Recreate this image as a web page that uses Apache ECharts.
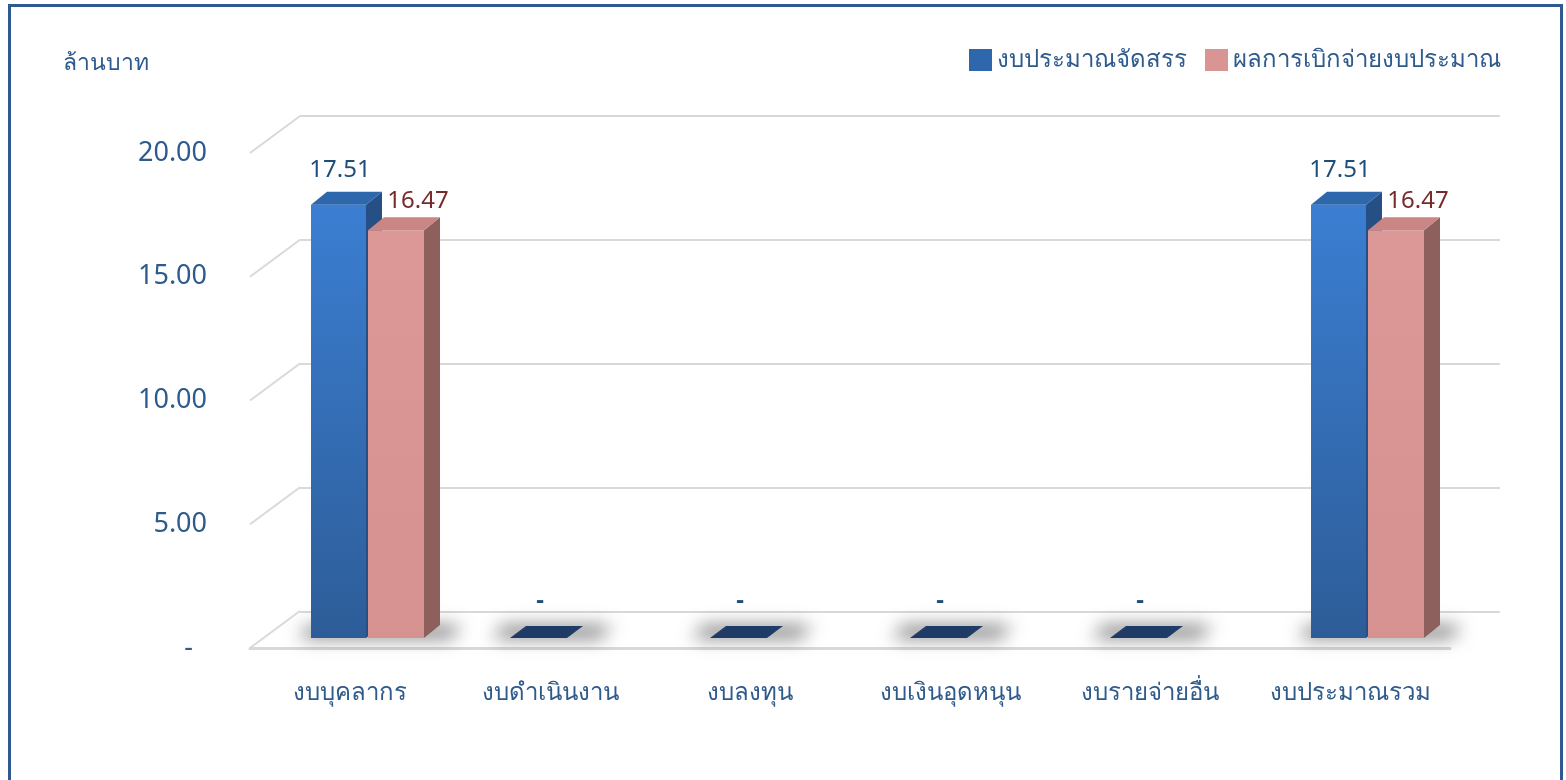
<!DOCTYPE html>
<html>
<head>
<meta charset="utf-8">
<script src="https://cdn.jsdelivr.net/npm/echarts@6/dist/echarts.min.js"></script>
<style>
  html, body { margin: 0; padding: 0; background: #fff; }
  #main { width: 1566px; height: 780px; position: relative; }
  .frame { position: absolute; left: 8px; top: 4px; width: 1555px; height: 800px; border: 3px solid #2f5a8f; box-sizing: border-box; pointer-events: none; }
</style>
</head>
<body>
<div id="main"></div>
<div class="frame"></div>
<script>
// ข้อมูล
const categories = ['งบบุคลากร', 'งบดำเนินงาน', 'งบลงทุน', 'งบเงินอุดหนุน', 'งบรายจ่ายอื่น', 'งบประมาณรวม']
const allocated = [17.51, 0, 0, 0, 0, 17.51]
const disbursed = [16.47, 0, 0, 0, 0, 16.47]
const yTicks = [0, 5, 10, 15, 20]
const seriesNames = ['งบประมาณจัดสรร', 'ผลการเบิกจ่ายงบประมาณ']

const FONT = '"Noto Sans", Tahoma, sans-serif'
const TEXT = '#2e5a8c'
const GRID = '#d9d9d9'
const DX = 16, DY = 13 // ความลึกของแท่ง
const WALL_DX = 50, WALL_DY = 37

function fmt (v) {
  return v === 0 ? '-' : v.toFixed(2)
}

function bar3d (x0, x1, y0, y1, c) {
  return [
    {
      type: 'rect',
      shape: { x: x0, y: y1, width: x1 - x0, height: y0 - y1 },
      style: { fill: new echarts.graphic.LinearGradient(0, 0, 0, 1, [{ offset: 0, color: c.front[0] }, { offset: 1, color: c.front[1] }]) }
    },
    {
      type: 'polygon',
      shape: { points: [[x1, y1], [x1 + DX, y1 - DY], [x1 + DX, y0 - DY], [x1, y0]] },
      style: { fill: c.side }
    },
    {
      type: 'polygon',
      shape: { points: [[x0, y1], [x0 + DX, y1 - DY], [x1 + DX, y1 - DY], [x1, y1]] },
      style: { fill: c.top }
    }
  ]
}

const blue = { front: ['#3b7ed2', '#2d5d98'], side: '#264f86', top: '#2f67ad' }
const pink = { front: ['#dc9896', '#d69290'], side: '#8d605e', top: '#c98684' }

const chart = echarts.init(document.getElementById('main'))
chart.setOption({
  animation: false,
  textStyle: { fontFamily: FONT },
  title: {
    text: 'ล้านบาท',
    left: 58,
    top: 47,
    textStyle: { fontSize: 23, fontWeight: 'normal', color: TEXT, fontFamily: FONT }
  },
  legend: {
    right: 60,
    top: 43,
    icon: 'rect',
    itemWidth: 23,
    itemHeight: 22,
    itemGap: 18,
    textStyle: { fontSize: 24, color: TEXT, fontFamily: FONT },
    data: seriesNames
  },
  grid: [
    // ผนังด้านหลัง
    { left: 300, right: 66, top: 116, height: 496 },
    // ระนาบด้านหน้า
    { left: 250, right: 116, top: 153, height: 495 }
  ],
  xAxis: [
    { type: 'category', gridIndex: 0, data: categories, show: false },
    {
      type: 'category',
      gridIndex: 1,
      data: categories,
      axisLine: { lineStyle: { color: GRID, width: 3 } },
      axisTick: { show: false },
      axisLabel: { interval: 0, fontSize: 24, color: TEXT, margin: 33, fontFamily: FONT }
    }
  ],
  yAxis: [
    {
      type: 'value',
      gridIndex: 0,
      min: 0,
      max: 20,
      interval: 5,
      axisLabel: { show: false },
      axisLine: { show: false },
      axisTick: { show: false },
      splitLine: { lineStyle: { color: GRID, width: 2 } }
    },
    {
      type: 'value',
      gridIndex: 1,
      min: 0,
      max: 20,
      interval: 5,
      axisLine: { show: false },
      axisTick: { show: false },
      splitLine: { show: false },
      axisLabel: {
        fontSize: 27,
        color: TEXT,
        margin: 43,
        fontFamily: FONT,
        padding: [14, 0, 0, 0],
        formatter: v => (v === 0 ? '-  ' : v.toFixed(2))
      }
    }
  ],
  series: [
    {
      // เส้นทแยงด้านซ้าย
      type: 'custom',
      xAxisIndex: 1,
      yAxisIndex: 1,
      silent: true,
      data: yTicks.map(v => [0, v]),
      renderItem (params, api) {
        const x = params.coordSys.x
        const y = api.coord([0, api.value(1)])[1]
        return {
          type: 'line',
          shape: { x1: x, y1: y, x2: x + WALL_DX, y2: y - WALL_DY },
          style: { stroke: GRID, lineWidth: 2 }
        }
      }
    },
    {
      // เงาบนพื้น
      type: 'custom',
      xAxisIndex: 1,
      yAxisIndex: 1,
      silent: true,
      z: 1,
      data: allocated.map((v, i) => [i, v]),
      renderItem (params, api) {
        const base = api.coord([api.value(0), 0])
        const cx = base[0]
        const y0 = base[1] - 10
        const big = api.value(1) > 0
        const l = big ? cx - 52 : cx - 58
        const r = big ? cx + 112 : cx + 62
        const off = 3000
        return {
          type: 'polygon',
          shape: { points: [[l - off, y0], [r - 12 - off, y0], [r - off, y0 - 12], [l + 12 - off, y0 - 12]] },
          style: {
            fill: '#000',
            shadowColor: 'rgba(0,0,0,0.55)',
            shadowBlur: 18,
            shadowOffsetX: off,
            shadowOffsetY: 0
          }
        }
      }
    },
    {
      name: seriesNames[0],
      type: 'custom',
      xAxisIndex: 1,
      yAxisIndex: 1,
      z: 3,
      itemStyle: { color: '#2f67ad' },
      data: allocated.map((v, i) => [i, v]),
      renderItem (params, api) {
        const i = api.value(0)
        const v = api.value(1)
        const base = api.coord([i, 0])
        const top = api.coord([i, v])
        const cx = base[0]
        const y0 = base[1] - 10
        const y1 = top[1] - 10
        const label = {
          type: 'text',
          style: {
            text: fmt(v), x: cx - 10, y: v === 0 ? y1 - 37 : y1 - 34, align: 'center', verticalAlign: 'middle',
            fontSize: 24, fontWeight: v === 0 ? 'bold' : 'normal', fontFamily: FONT, fill: '#1f4e79'
          }
        }
        if (v === 0) {
          return {
            type: 'group',
            children: [
              {
                type: 'polygon',
                shape: { points: [[cx - 40, y0], [cx + 17, y0], [cx + 33, y0 - 12], [cx - 24, y0 - 12]] },
                style: { fill: '#1f3c66' }
              },
              label
            ]
          }
        }
        return { type: 'group', children: bar3d(cx - 39, cx + 16, y0, y1, blue).concat([label]) }
      }
    },
    {
      name: seriesNames[1],
      type: 'custom',
      xAxisIndex: 1,
      yAxisIndex: 1,
      z: 4,
      itemStyle: { color: '#d99593' },
      data: disbursed.map((v, i) => [i, v]),
      renderItem (params, api) {
        const i = api.value(0)
        const v = api.value(1)
        if (v === 0) return { type: 'group', children: [] }
        const base = api.coord([i, 0])
        const top = api.coord([i, v])
        const cx = base[0]
        const y0 = base[1] - 10
        const y1 = top[1] - 10
        const label = {
          type: 'text',
          style: {
            text: fmt(v), x: cx + 68, y: y1 - 29, align: 'center', verticalAlign: 'middle',
            fontSize: 24, fontFamily: FONT, fill: '#772a2a'
          }
        }
        return { type: 'group', children: bar3d(cx + 18, cx + 74, y0, y1, pink).concat([label]) }
      }
    }
  ]
})
</script>
</body>
</html>
